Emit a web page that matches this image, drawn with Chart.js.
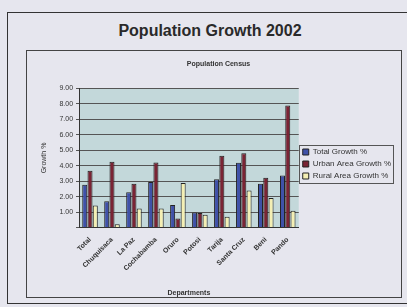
<!DOCTYPE html>
<html>
<head>
<meta charset="utf-8">
<script src="https://cdn.jsdelivr.net/npm/chart.js@4"></script>
<style>
  html, body { margin: 0; padding: 0; background: #e6e6ee; }
  body { width: 407px; height: 307px; position: relative; overflow: hidden; font-family: "Liberation Sans", Arial, sans-serif; }
  #outer { position: absolute; left: 7px; top: 12px; width: 405px; height: 292px; border: 1px solid #333; border-right: none; box-sizing: border-box; }
  #title { position: absolute; left: 0; top: 22px; width: 420px; text-align: center; font-size: 16px; font-weight: bold; color: #2a2a2a; }
  #box { position: absolute; left: 26px; top: 50px; width: 376px; height: 248px; border: 1px solid #444; box-sizing: border-box; }
  #box canvas { position: absolute; left: 0; top: 0; }
</style>
</head>
<body>
<div id="outer"></div>
<div id="title">Population Growth 2002</div>
<div id="box"><canvas id="chart" width="374" height="246"></canvas></div>
<script>
'use strict';

const departments = ['Total', 'Chuquisaca', 'La Paz', 'Cochabamba', 'Oruro', 'Potosi', 'Tarija', 'Santa Cruz', 'Beni', 'Pando'];
const totalGrowth = [2.77, 1.70, 2.29, 2.95, 1.46, 0.98, 3.12, 4.19, 2.84, 3.36];
const urbanGrowth = [3.67, 4.26, 2.84, 4.21, 0.59, 0.94, 4.65, 4.80, 3.23, 7.90];
const ruralGrowth = [1.42, 0.22, 1.24, 1.24, 2.88, 0.83, 0.70, 2.40, 1.92, 1.09];

// nudge the legend up a bit, and frame its items only (not the whole legend column)
const legendBox = {
  id: 'legendBox',
  afterLayout(chart) {
    chart.legend.top -= 10;
    chart.legend.bottom -= 10;
  },
  afterDraw(chart) {
    const boxes = chart.legend.legendHitBoxes;
    if (!boxes || !boxes.length) return;
    let l = Infinity, t = Infinity, r = -Infinity, b = -Infinity;
    boxes.forEach((h) => {
      l = Math.min(l, h.left); t = Math.min(t, h.top);
      r = Math.max(r, h.left + h.width); b = Math.max(b, h.top + h.height);
    });
    const ctx = chart.ctx;
    ctx.save();
    ctx.strokeStyle = '#555';
    ctx.lineWidth = 1;
    ctx.strokeRect(Math.round(l - 4) + 0.5, Math.round(t - 3) + 0.5, Math.round(r - l + 6), Math.round(b - t + 6));
    ctx.restore();
  }
};

const plotBg = {
  id: 'plotBg',
  beforeDraw(chart) {
    const a = chart.chartArea;
    const ctx = chart.ctx;
    ctx.save();
    ctx.fillStyle = '#c3d8da';
    ctx.fillRect(a.left, a.top, a.right - a.left, a.bottom - a.top);
    ctx.restore();
  }
};

const ds = (label, data, color) => ({
  label: label,
  data: data,
  backgroundColor: color,
  borderColor: '#222',
  borderWidth: 1,
  barPercentage: 0.95,
  categoryPercentage: 0.72
});

new Chart(document.getElementById('chart').getContext('2d'), {
  type: 'bar',
  data: {
    labels: departments,
    datasets: [
      ds('Total Growth %', totalGrowth, '#3f51a8'),
      ds('Urban Area Growth %', urbanGrowth, '#7a2434'),
      ds('Rural Area Growth %', ruralGrowth, '#f4efb4')
    ]
  },
  options: {
    responsive: false,
    animation: false,
    layout: { padding: { left: 9, right: 0, top: 0, bottom: 0 } },
    plugins: {
      title: {
        display: true,
        text: 'Population Census',
        color: '#333',
        font: { size: 7, weight: 'bold', family: 'Liberation Sans' },
        padding: { top: 9, bottom: 20 }
      },
      legend: {
        position: 'right',
        maxWidth: 110,
        labels: {
          boxWidth: 6,
          boxHeight: 6,
          padding: 4,
          color: '#333',
          font: { size: 8, family: 'Liberation Sans' }
        }
      },
      tooltip: { enabled: false }
    },
    scales: {
      x: {
        grid: { display: false },
        border: { color: '#333' },
        ticks: {
          color: '#333',
          maxRotation: 45,
          minRotation: 45,
          padding: 0,
          font: { size: 7, weight: 'bold', family: 'Liberation Sans' }
        },
        title: {
          display: true,
          text: 'Departments',
          color: '#333',
          font: { size: 7, weight: 'bold', family: 'Liberation Sans' },
          padding: { top: 16, bottom: 0 }
        }
      },
      y: {
        min: 0,
        max: 9,
        grid: { color: '#555', drawTicks: true, tickLength: 3 },
        border: { color: '#333' },
        ticks: {
          stepSize: 1,
          color: '#333',
          font: { size: 7, family: 'Liberation Sans' },
          callback: (v) => v === 0 ? '' : v.toFixed(2)
        },
        title: {
          display: true,
          text: 'Growth %',
          color: '#333',
          font: { size: 7, family: 'Liberation Sans' },
          padding: { bottom: 8 }
        }
      }
    }
  },
  plugins: [plotBg, legendBox]
});
</script>
</body>
</html>
